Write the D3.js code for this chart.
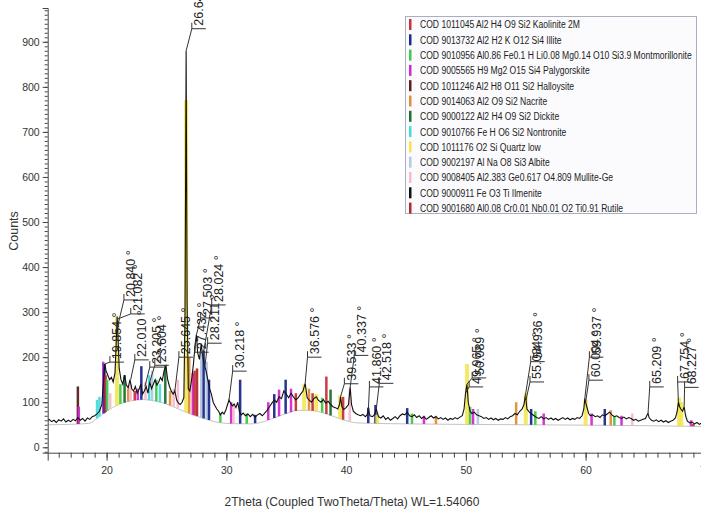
<!DOCTYPE html>
<html>
<head>
<meta charset="utf-8">
<script src="https://cdn.jsdelivr.net/npm/d3@7"></script>
<style>
body{margin:0;background:#fff}
svg{display:block;font-family:"Liberation Sans",Arial,sans-serif}
</style>
</head>
<body>
<div class="xrd-plot"></div>
<script>
// phases (legend) and their colours
const phases = [
  'COD 1011045 Al2 H4 O9 Si2 Kaolinite 2M',
  'COD 9013732 Al2 H2 K O12 Si4 Illite',
  'COD 9010956 Al0.86 Fe0.1 H Li0.08 Mg0.14 O10 Si3.9 Montmorillonite',
  'COD 9005565 H9 Mg2 O15 Si4 Palygorskite',
  'COD 1011246 Al2 H8 O11 Si2 Halloysite',
  'COD 9014063 Al2 O9 Si2 Nacrite',
  'COD 9000122 Al2 H4 O9 Si2 Dickite',
  'COD 9010766 Fe H O6 Si2 Nontronite',
  'COD 1011176 O2 Si Quartz low',
  'COD 9002197 Al Na O8 Si3 Albite',
  'COD 9008405 Al2.383 Ge0.617 O4.809 Mullite-Ge',
  'COD 9000911 Fe O3 Ti Ilmenite',
  'COD 9001680 Al0.08 Cr0.01 Nb0.01 O2 Ti0.91 Rutile'
];
const phaseColors = ['#c8323a','#1c2a8c','#44c84a','#d22ad2','#5c1e1e','#e0903a','#1e6e32',
  '#46dcdc','#f2e64a','#b4c8e0','#f6bccc','#111111','#b4282c'];

// measured pattern [2theta, counts]
const pattern = [
[15.0,58],[15.2,62],[15.4,57],[15.6,60],[15.8,55],[16.0,61],[16.2,58],[16.4,63],[16.6,56],[16.8,60],
[17.0,57],[17.2,62],[17.4,59],[17.6,66],[17.8,60],[18.0,64],[18.2,58],[18.4,65],[18.6,62],[18.8,68],
[19.0,70],[19.2,74],[19.4,80],[19.6,95],[19.75,150],[19.85,185],[19.95,170],[20.1,160],[20.25,150],[20.4,155],
[20.55,145],[20.7,165],[20.8,230],[20.88,290],[20.96,240],[21.05,175],[21.2,150],[21.35,140],[21.5,160],[21.65,138],
[21.8,132],[21.95,150],[22.1,130],[22.25,125],[22.4,135],[22.55,120],[22.7,128],[22.85,140],[23.0,118],[23.15,125],
[23.3,135],[23.45,120],[23.6,145],[23.75,130],[23.9,140],[24.05,150],[24.2,138],[24.35,145],[24.5,155],[24.65,148],
[24.8,170],[24.95,180],[25.1,150],[25.25,135],[25.4,125],[25.55,118],[25.7,125],[25.85,105],[26.0,98],[26.15,95],
[26.3,100],[26.45,110],[26.55,300],[26.64,880],[26.72,320],[26.82,130],[26.95,125],[27.1,150],[27.25,185],[27.4,230],
[27.5,250],[27.6,210],[27.75,195],[27.9,230],[28.0,205],[28.15,185],[28.3,170],[28.45,150],[28.6,130],[28.75,118],
[28.9,100],[29.05,92],[29.2,85],[29.35,80],[29.5,72],[29.65,78],[29.8,74],[29.95,82],[30.1,95],[30.22,105],
[30.35,98],[30.5,92],[30.65,96],[30.8,88],[30.95,100],[31.1,78],[31.25,72],[31.4,76],[31.6,70],[31.8,74],
[32.0,68],[32.2,73],[32.4,67],[32.6,72],[32.8,75],[33.0,70],[33.2,76],[33.4,82],[33.6,90],[33.8,98],
[34.0,105],[34.2,100],[34.4,112],[34.6,108],[34.8,125],[35.0,118],[35.2,110],[35.4,120],[35.6,112],[35.8,105],
[36.0,110],[36.2,118],[36.4,125],[36.58,142],[36.75,110],[36.9,105],[37.1,100],[37.3,108],[37.5,112],[37.7,104],
[37.9,100],[38.1,106],[38.3,98],[38.5,102],[38.7,95],[38.9,90],[39.1,88],[39.3,85],[39.45,95],[39.53,112],
[39.65,90],[39.8,84],[40.0,88],[40.2,95],[40.34,134],[40.45,95],[40.6,80],[40.8,75],[41.0,72],[41.2,70],
[41.4,73],[41.6,68],[41.75,72],[41.86,83],[42.0,70],[42.2,68],[42.35,72],[42.52,85],[42.7,68],[42.9,65],
[43.1,70],[43.3,62],[43.5,66],[43.7,60],[43.9,64],[44.1,68],[44.3,63],[44.5,70],[44.7,74],[44.9,72],
[45.1,78],[45.3,70],[45.5,68],[45.7,72],[45.9,66],[46.1,70],[46.3,64],[46.5,68],[46.7,62],[46.9,66],
[47.1,70],[47.3,65],[47.5,68],[47.7,63],[47.9,66],[48.1,62],[48.3,65],[48.5,60],[48.7,64],[48.9,62],
[49.1,66],[49.3,63],[49.5,67],[49.7,70],[49.85,85],[49.97,120],[50.09,140],[50.2,100],[50.35,80],[50.5,75],
[50.7,78],[50.9,72],[51.1,70],[51.3,68],[51.5,64],[51.7,66],[51.9,62],[52.1,65],[52.3,61],[52.5,64],
[52.7,60],[52.9,63],[53.1,62],[53.3,66],[53.5,63],[53.7,68],[53.9,70],[54.1,75],[54.3,72],[54.5,80],
[54.7,85],[54.85,95],[54.94,110],[55.02,105],[55.1,85],[55.3,78],[55.5,74],[55.7,70],[55.9,66],[56.1,64],
[56.3,68],[56.5,63],[56.7,66],[56.9,62],[57.1,65],[57.3,61],[57.5,64],[57.7,60],[57.9,63],[58.1,66],
[58.3,62],[58.5,65],[58.7,61],[58.9,64],[59.1,62],[59.3,66],[59.5,64],[59.7,70],[59.85,85],[59.94,110],
[60.0,100],[60.1,90],[60.25,75],[60.4,70],[60.6,72],[60.8,68],[61.0,70],[61.2,66],[61.4,72],[61.6,70],
[61.8,74],[62.0,78],[62.2,72],[62.4,68],[62.6,70],[62.8,66],[63.0,64],[63.2,67],[63.4,63],[63.6,66],
[63.8,64],[64.0,60],[64.2,62],[64.4,58],[64.6,60],[64.8,62],[65.0,64],[65.1,70],[65.21,75],[65.3,66],
[65.5,60],[65.7,58],[65.9,61],[66.1,57],[66.3,60],[66.5,56],[66.7,59],[66.9,55],[67.1,58],[67.3,60],
[67.5,65],[67.65,80],[67.75,100],[67.85,90],[67.95,85],[68.1,80],[68.23,90],[68.35,70],[68.5,58],[68.7,54],
[68.9,56],[69.1,52],[69.3,55],[69.5,51],[69.7,54],[69.9,50],[70.1,52],[70.3,50],[70.5,52]
];

// amorphous background curve [2theta, counts]
const background = [
[15,50],[17,51],[18.5,53],[19.2,64],[20,80],[21,95],[22,103],[23,106],[24,103],[25,96],[26,85],[27,74],
[28,65],[29,57],[30,53],[32,52],[33,56],[34,65],[35,75],[36,82],[37,82],[38,77],[39,68],[40,59],[41,54],
[45,52],[55,50],[65,48],[70.5,46]
];

// reference sticks [2theta, counts, phase index]
const sticks = [
[17.6,135,4],[17.68,90,3],[19.2,105,7],[19.4,112,7],[19.72,190,3],[19.82,185,1],[19.92,160,0],[20.05,150,2],
[20.3,120,10],[20.86,290,8],[21.15,140,2],[21.5,160,6],[21.8,130,5],[22.0,140,10],[22.35,125,0],[22.6,130,3],
[22.9,180,1],[23.25,145,10],[23.55,160,7],[23.8,170,9],[24.15,150,2],[24.45,140,7],[24.9,182,6],[25.3,125,5],
[25.6,130,10],[25.95,150,10],[26.64,770,8],[26.9,200,5],[27.2,165,3],[27.35,170,0],[27.55,175,12],[27.9,210,9],
[28.1,215,1],[28.35,190,9],[28.55,150,1],[29.5,75,2],[30.4,100,3],[30.6,95,10],[31.15,150,1],[31.7,75,2],
[32.4,72,1],[33.5,100,3],[34.0,118,1],[34.4,128,3],[34.95,150,1],[35.4,130,3],[35.8,120,0],[36.5,140,8],
[36.9,130,5],[37.2,120,0],[37.5,118,8],[38.0,110,2],[38.35,157,0],[38.7,128,6],[39.5,115,8],[39.75,112,0],
[40.3,130,10],[41.85,88,1],[42.45,94,1],[42.6,72,8],[45.1,87,1],[45.5,75,2],[46.5,70,3],[47.5,70,5],
[50.1,185,8],[50.35,90,2],[50.6,85,3],[51.0,85,9],[54.2,100,5],[55.0,120,8],[55.45,85,1],[55.8,80,2],
[56.5,75,3],[60.0,105,8],[60.5,75,3],[61.6,85,1],[62.1,82,5],[62.4,70,2],[63.0,70,3],[63.9,75,10],
[67.8,110,8],[68.0,100,8],[68.8,60,3],[69.0,52,0]
];

// peak labels
const peakLabels = ['19.854 °','20.840 °','21.082 °','22.010 °','23.205 °','23.604 °','25.645 °','26.645 °',
  '27.432 °','27.503 °','28.211 °','28.024 °','30.218 °','36.576 °','39.533 °','40.337 °','41.860 °','42.518 °',
  '49.965 °','50.089 °','55.084 °','54.936 °','60.004 °','59.937 °','65.209 °','67.754 °','68.227 °'];
const peakPos = [19.854,20.84,20.95,22.01,23.2,23.6,25.7,26.64,27.43,27.5,28.21,28.02,30.22,36.58,39.53,40.34,
  41.86,42.52,49.97,50.09,55.02,54.94,60.0,59.94,65.21,67.75,68.23];
const peakTop = [185,260,285,150,135,145,125,880,235,250,180,200,105,142,112,134,83,85,120,140,105,110,100,110,75,100,90];
const labelPos = [20.86,22.03,22.6,22.94,24.19,24.61,26.62,27.7,27.94,28.44,29.02,29.36,31.11,37.36,40.44,41.27,
  42.53,43.36,50.86,51.11,55.94,56.0,60.86,60.9,65.94,68.27,68.85];
const labelBase = [189,327,296,194,178,182,200,929,211,287,231,316,169,200,141,204,134,142,134,154,145,190,149,200,134,145,133];

const xTicks = [20,30,40,50,60,70];
const yTicks = [0,100,200,300,400,500,600,700,800,900];

const width = 701;
const height = 510;
const svg = d3.select('.xrd-plot')
    .append('svg')
    .attr('width', width)
    .attr('height', height);

const x = d3.scaleLinear().domain([15.08, 70.5]).range([47.7, 47.7 + 55.42 * 11.975]);
const y = d3.scaleLinear().domain([-12, 975]).range([452.7, 8]);

const bgAt = d3.scaleLinear().domain(background.map(d => d[0])).range(background.map(d => d[1]));

svg.append('defs').append('clipPath').attr('id', 'plotclip')
    .append('rect').attr('x', 48).attr('y', 0).attr('width', 660).attr('height', 452);

const plot = svg.append('g').attr('clip-path', 'url(#plotclip)');

// amorphous hump
plot.append('path')
    .datum(background)
    .attr('fill', 'none')
    .attr('stroke', '#c4c4c4')
    .attr('stroke-width', 1)
    .attr('d', d3.line().x(d => x(d[0])).y(d => y(d[1])).curve(d3.curveMonotoneX));

// phase sticks
plot.selectAll('.stick')
    .data(sticks)
    .enter()
    .append('line')
    .attr('class', 'stick')
    .attr('x1', d => x(d[0]))
    .attr('x2', d => x(d[0]))
    .attr('y1', d => y(bgAt(d[0])))
    .attr('y2', d => y(d[1]))
    .attr('stroke', d => phaseColors[d[2]])
    .attr('stroke-width', d => d[2] == 8 ? 4 : 2.5)
    .attr('opacity', d => d[2] == 8 ? 0.85 : 0.95);

// measured pattern
plot.append('path')
    .datum(pattern)
    .attr('fill', 'none')
    .attr('stroke', '#111')
    .attr('stroke-width', 1.1)
    .attr('d', d3.line().x(d => x(d[0])).y(d => y(d[1])));

// peak labels with leader lines
const labels = svg.append('g');
peakLabels.forEach((t, i) => {
    const bx = x(labelPos[i]) - 7;
    const by = y(labelBase[i]);
    labels.append('path')
        .attr('fill', 'none')
        .attr('stroke', '#333')
        .attr('stroke-width', 1)
        .attr('d', `M${x(peakPos[i])},${y(peakTop[i])}L${bx},${by}H${bx + 14}M${bx},${by}V${by - 6}`);
    labels.append('text')
        .attr('transform', `translate(${x(labelPos[i])},${by - 3}) rotate(-90)`)
        .attr('dy', '0.35em')
        .attr('font-size', 12.5)
        .attr('fill', '#222')
        .text(t);
});

// axes
const xAxis = svg.append('g').attr('transform', 'translate(0,452.7)')
    .call(d3.axisBottom(x).tickValues(xTicks).tickSize(8).tickPadding(6).tickFormat(d3.format('d')));
svg.append('g').attr('transform', 'translate(0,452.7)')
    .call(d3.axisBottom(x).tickValues(d3.range(16, 71, 1)).tickSize(5).tickFormat(''))
    .select('.domain').remove();
const yAxis = svg.append('g').attr('transform', 'translate(47.7,0)')
    .call(d3.axisLeft(y).tickValues(yTicks).tickSize(5).tickPadding(3));
svg.append('g').attr('transform', 'translate(47.7,0)')
    .call(d3.axisLeft(y).tickValues(d3.range(-10, 975, 10)).tickSize(3).tickFormat(''))
    .select('.domain').remove();
svg.selectAll('.domain').attr('stroke', '#444');
svg.selectAll('.tick line').attr('stroke', '#444');
svg.selectAll('.tick text').attr('font-size', 10.5).attr('fill', '#333')
    .attr('font-family', '"Liberation Sans",Arial,sans-serif');

svg.append('text')
    .attr('transform', 'translate(18,231) rotate(-90)')
    .attr('text-anchor', 'middle')
    .attr('font-size', 12.5)
    .attr('fill', '#333')
    .text('Counts');

svg.append('text')
    .attr('x', 352)
    .attr('y', 506)
    .attr('text-anchor', 'middle')
    .attr('font-size', 12)
    .attr('fill', '#333')
    .text('2Theta (Coupled TwoTheta/Theta) WL=1.54060');

// legend
const legend = svg.append('g');
legend.append('rect')
    .attr('x', 405.5).attr('y', 16.5).attr('width', 291).attr('height', 197)
    .attr('fill', '#fbfbfd').attr('stroke', '#a9b0c2');
legend.selectAll('.mark')
    .data(phases)
    .enter()
    .append('rect')
    .attr('class', 'mark')
    .attr('x', 409)
    .attr('y', (d, i) => 19 + i * 15.3)
    .attr('width', 2.5)
    .attr('height', 11)
    .attr('fill', (d, i) => phaseColors[i]);
legend.append('g')
    .attr('transform', 'translate(420,0) scale(0.78,1)')
    .selectAll('text')
    .data(phases)
    .enter()
    .append('text')
    .attr('x', 0)
    .attr('y', (d, i) => 28.5 + i * 15.3)
    .attr('font-size', 11)
    .attr('fill', '#222')
    .text(d => d);
</script>
</body>
</html>
